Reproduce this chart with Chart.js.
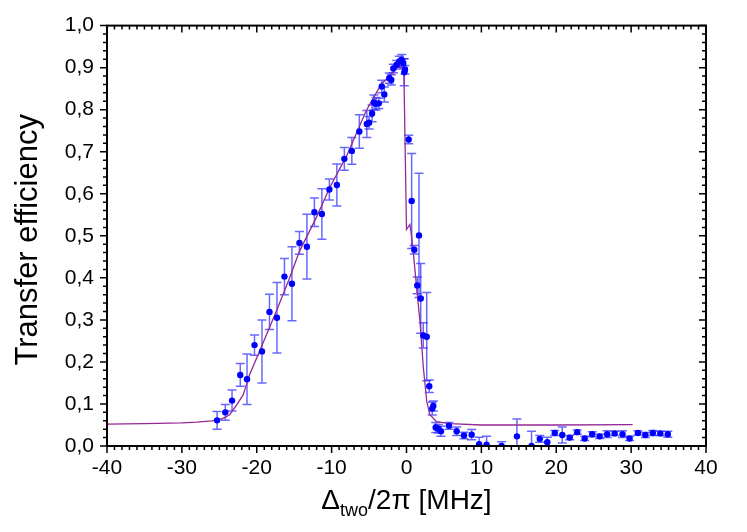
<!DOCTYPE html>
<html>
<head>
<meta charset="utf-8">
<script src="https://cdn.jsdelivr.net/npm/chart.js@4.4.0/dist/chart.umd.min.js"></script>
<style>
	html, body { margin: 0; padding: 0; background: #fff; }
	#chart_div { width: 747px; height: 532px; }
</style>
</head>
<body>
<div id="chart_div"><canvas id="mychart" width="747" height="532"></canvas></div>
<script>
// measured points: detuning (MHz), transfer efficiency, error
var detuning = [-25.3, -24.2, -23.3, -22.2, -21.3, -20.3, -19.3, -18.3, -17.3, -16.3,
	-15.3, -14.3, -13.3, -12.3, -11.3, -10.3, -9.3, -8.3, -7.3, -6.3,
	-5.3, -5.0, -4.6, -4.35, -4.07, -3.7, -3.3, -2.96, -2.3, -2.03,
	-1.76, -1.31, -0.96, -0.64, -0.43, -0.2, -0.29, 0.29, 0.69, 1.04,
	1.67, 1.44, 1.9, 2.24, 2.7, 3.04, 3.44, 3.58, 3.9, 4.25,
	4.6, 5.67, 6.7, 7.68, 8.7, 9.7, 10.7, 12.7, 14.75, 16.7,
	17.8, 18.8, 19.8, 20.8, 21.8, 22.8, 23.8, 24.8, 25.8, 26.8,
	27.8, 28.85, 29.8, 30.9, 31.9, 32.9, 33.9, 34.9];
var transfer = [0.061, 0.080, 0.108, 0.169, 0.159, 0.240, 0.225, 0.319, 0.305, 0.403,
	0.386, 0.483, 0.474, 0.556, 0.552, 0.610, 0.621, 0.683, 0.702, 0.748,
	0.766, 0.769, 0.791, 0.817, 0.814, 0.815, 0.855, 0.836, 0.875, 0.871,
	0.898, 0.907, 0.915, 0.918, 0.911, 0.895, 0.889, 0.729, 0.583, 0.467,
	0.501, 0.382, 0.351, 0.263, 0.260, 0.142, 0.089, 0.095, 0.044, 0.041,
	0.035, 0.048, 0.035, 0.025, 0.027, 0.004, 0.003, 0.0, 0.023, 0.0,
	0.017, 0.009, 0.031, 0.026, 0.020, 0.033, 0.018, 0.028, 0.023, 0.028,
	0.030, 0.028, 0.018, 0.031, 0.026, 0.031, 0.030, 0.028];
var transferErr = [0.021, 0.019, 0.025, 0.027, 0.060, 0.024, 0.075, 0.042, 0.084, 0.043,
	0.088, 0.027, 0.077, 0.034, 0.060, 0.025, 0.050, 0.027, 0.032, 0.040,
	0.032, 0.015, 0.020, 0.018, 0.015, 0.012, 0.015, 0.018, 0.012, 0.012,
	0.010, 0.010, 0.012, 0.013, 0.010, 0.010, 0.032, 0.010, 0.113, 0.010,
	0.148, 0.020, 0.083, 0.030, 0.105, 0.015, 0.015, 0.012, 0.012, 0.010,
	0.012, 0.008, 0.010, 0.008, 0.012, 0.017, 0.020, 0.010, 0.041, 0.035,
	0.008, 0.012, 0.006, 0.019, 0.005, 0.005, 0.005, 0.006, 0.005, 0.008,
	0.005, 0.008, 0.005, 0.005, 0.006, 0.006, 0.005, 0.007];

// fit curve
var fitX = [-40, -35, -30, -28, -26, -25, -24.2, -23.6, -22.7, -21.8,
	-21.0, -19.4, -17.4, -15.6, -14.3, -12, -10.3, -8, -5.4, -3.4,
	-2, -1.2, -0.6, -0.35, 0.0, 0.45, 0.6, 0.9, 1.35, 1.8,
	2.25, 2.7, 3.1, 4.0, 5.8, 10, 20, 30.2];
var fitY = [0.052, 0.053, 0.055, 0.057, 0.060, 0.063, 0.068, 0.075, 0.097, 0.122,
	0.168, 0.235, 0.320, 0.400, 0.463, 0.545, 0.613, 0.690, 0.797, 0.860,
	0.885, 0.902, 0.898, 0.890, 0.515, 0.527, 0.510, 0.463, 0.377, 0.297,
	0.186, 0.107, 0.075, 0.058, 0.053, 0.050, 0.050, 0.051];

var xTickStep = 10;
var yTickStep = 0.1;
var fontFam = "'Liberation Sans', Arial, sans-serif";

var errorBars = {
	id: 'errorBars',
	beforeDatasetsDraw: function (chart) {
		var ctx = chart.ctx, a = chart.chartArea;
		var sx = chart.scales.x, sy = chart.scales.y;
		ctx.save();
		ctx.beginPath();
		ctx.rect(a.left, a.top, a.right - a.left, a.bottom - a.top);
		ctx.clip();
		ctx.strokeStyle = 'rgba(40, 40, 255, 0.7)';
		ctx.lineWidth = 1.5;
		for (var i = 0; i < detuning.length; i++) {
			var px = sx.getPixelForValue(detuning[i]);
			var y1 = sy.getPixelForValue(transfer[i] + transferErr[i]);
			var y2 = sy.getPixelForValue(transfer[i] - transferErr[i]);
			ctx.beginPath();
			ctx.moveTo(px, y1); ctx.lineTo(px, y2);
			ctx.moveTo(px - 4.5, y1); ctx.lineTo(px + 4.5, y1);
			ctx.moveTo(px - 4.5, y2); ctx.lineTo(px + 4.5, y2);
			ctx.stroke();
		}
		ctx.restore();
	}
};

var frameAxes = {
	id: 'frameAxes',
	afterDraw: function (chart) {
		var ctx = chart.ctx, a = chart.chartArea;
		var sx = chart.scales.x, sy = chart.scales.y;
		ctx.save();
		ctx.strokeStyle = '#000';
		ctx.lineWidth = 1.5;
		ctx.beginPath();
		for (var v = -40; v <= 40; v++) {
			var px = sx.getPixelForValue(v);
			var len = (v % 10 === 0) ? 7 : 4;
			ctx.moveTo(px, a.bottom); ctx.lineTo(px, a.bottom + len);
			ctx.moveTo(px, a.top); ctx.lineTo(px, a.top + len);
		}
		for (var i = 0; i <= 50; i++) {
			var py = sy.getPixelForValue(i * 0.02);
			var l2 = (i % 5 === 0) ? 7 : 4;
			ctx.moveTo(a.left - l2, py); ctx.lineTo(a.left, py);
			ctx.moveTo(a.right - l2, py); ctx.lineTo(a.right, py);
		}
		ctx.stroke();
		ctx.lineWidth = 2;
		ctx.strokeRect(a.left, a.top, a.right - a.left, a.bottom - a.top);

		// axis titles
		ctx.fillStyle = '#000';
		ctx.save();
		ctx.translate(28, (a.top + a.bottom) / 2 + 4);
		ctx.rotate(-Math.PI / 2);
		ctx.textAlign = 'center';
		ctx.textBaseline = 'middle';
		ctx.font = '31px ' + fontFam;
		ctx.fillText('Transfer efficiency', 0, 0);
		ctx.restore();

		ctx.textBaseline = 'alphabetic';
		var big = '28px ' + fontFam, small = '18px ' + fontFam;
		var parts = [['\u0394', big, 0], ['two', small, 7], ['/2\u03c0 [MHz]', big, 0]];
		var total = 0;
		parts.forEach(function (p) { ctx.font = p[1]; total += ctx.measureText(p[0]).width; });
		var x0 = (a.left + a.right) / 2 - total / 2, base = 509;
		ctx.textAlign = 'left';
		parts.forEach(function (p) {
			ctx.font = p[1];
			ctx.fillText(p[0], x0, base + p[2]);
			x0 += ctx.measureText(p[0]).width;
		});
		ctx.restore();
	}
};

var fitData = fitX.map(function (x, i) { return { x: x, y: fitY[i] }; });
var pointData = detuning.map(function (x, i) { return { x: x, y: transfer[i] }; });

new Chart(document.getElementById('mychart'), {
	type: 'scatter',
	plugins: [errorBars, frameAxes],
	data: {
		datasets: [
			{
				label: 'data',
				data: pointData,
				order: 0,
				pointRadius: 3.2,
				pointBackgroundColor: '#0000ff',
				pointBorderWidth: 0,
				showLine: false
			},
			{
				label: 'fit',
				data: fitData,
				order: 1,
				showLine: true,
				pointRadius: 0,
				borderColor: 'rgb(150, 40, 150)',
				borderWidth: 1.3,
				tension: 0
			}
		]
	},
	options: {
		responsive: false,
		animation: false,
		layout: { padding: { top: 25, right: 41, left: 0, bottom: 0 } },
		plugins: {
			legend: { display: false },
			tooltip: { enabled: false }
		},
		scales: {
			x: {
				type: 'linear', min: -40, max: 40,
				grid: { display: false, drawTicks: false },
				border: { display: false },
				ticks: {
					stepSize: xTickStep, color: '#000', padding: 10, maxRotation: 0,
					font: { family: fontFam, size: 21 },
					callback: function (v) { return String(v); }
				},
				afterFit: function (s) { s.height = 86; }
			},
			y: {
				type: 'linear', min: 0, max: 1,
				grid: { display: false, drawTicks: false },
				border: { display: false },
				ticks: {
					stepSize: yTickStep, color: '#000', padding: 13,
					font: { family: fontFam, size: 21 },
					callback: function (v) { return v.toFixed(1).replace('.', ','); }
				},
				afterFit: function (s) { s.width = 107; }
			}
		}
	}
});
</script>
</body>
</html>
